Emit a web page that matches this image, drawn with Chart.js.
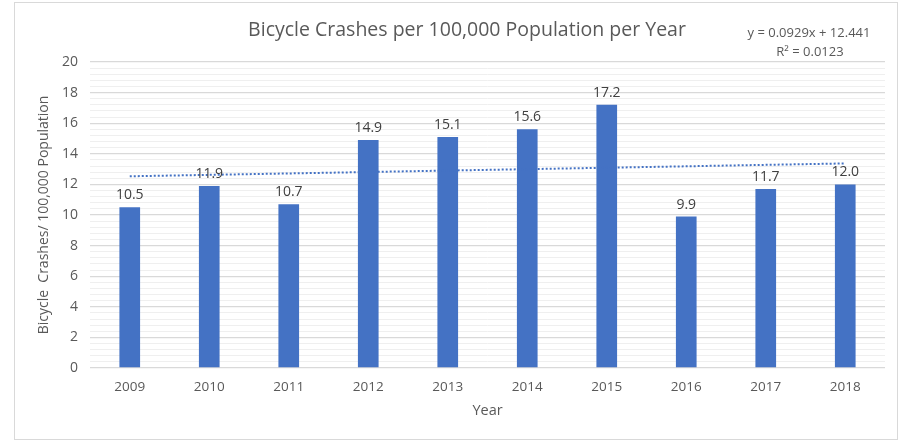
<!DOCTYPE html>
<html>
<head>
<meta charset="utf-8">
<script src="https://cdn.jsdelivr.net/npm/chart.js@4/dist/chart.umd.min.js"></script>
<style>
  html, body { margin: 0; padding: 0; background: #fff; }
  #wrap { width: 902px; height: 444px; position: relative; }
</style>
</head>
<body>
<div id="wrap"><canvas id="grafico" width="902" height="444"></canvas></div>
<script>
// =====================================================
// DATOS
// =====================================================

const years = ["2009", "2010", "2011", "2012", "2013", "2014", "2015", "2016", "2017", "2018"];
const crashRates = [10.5, 11.9, 10.7, 14.9, 15.1, 15.6, 17.2, 9.9, 11.7, 12.0];
// linea de tendencia (extremos)
const trendValues = [12.53, null, null, null, null, null, null, null, null, 13.37];
const yTickLabels = [0, 2, 4, 6, 8, 10, 12, 14, 16, 18, 20];
const yMinorStep = 0.4;

const chartTitle = "Bicycle Crashes per 100,000 Population per Year";
const trendEquation = "y = 0.0929x + 12.441";
const trendR2 = "R² = 0.0123";

const FONT = "'Open Sans', 'Liberation Sans', sans-serif";
const GRIS = "#595959";

// =====================================================
// PLUGIN: marco, titulo, ecuacion, etiquetas de valores
// =====================================================

const extras = {
  id: "extras",
  beforeDraw(chart) {
    const ctx = chart.ctx;
    ctx.save();
    ctx.strokeStyle = "#d9d9d9";
    ctx.lineWidth = 1;
    ctx.strokeRect(14.5, 2.5, 883, 437);
    ctx.restore();
  },
  afterDatasetsDraw(chart) {
    const ctx = chart.ctx;
    ctx.save();

    ctx.fillStyle = GRIS;
    ctx.textAlign = "center";
    ctx.textBaseline = "middle";
    ctx.font = "19.5px " + FONT;
    ctx.fillText(chartTitle, 467, 30);

    ctx.font = "13px " + FONT;
    ctx.fillText(trendEquation, 809, 33);
    ctx.fillText(trendR2, 810, 52);

    // valores sobre las barras
    const meta = chart.getDatasetMeta(0);
    ctx.fillStyle = "#404040";
    ctx.font = "14px " + FONT;
    ctx.textBaseline = "bottom";
    meta.data.forEach((bar, i) => {
      ctx.fillText(crashRates[i].toFixed(1), bar.x, bar.y - 5);
    });

    ctx.restore();
  }
};

// =====================================================
// GRAFICO
// =====================================================

const ctx = document.getElementById("grafico").getContext("2d");

new Chart(ctx, {
  type: "bar",
  data: {
    labels: years,
    datasets: [
      {
        label: "Bicycle Crashes",
        data: crashRates,
        backgroundColor: "#4472C4",
        barPercentage: 0.26,
        categoryPercentage: 1,
        order: 2
      },
      {
        type: "line",
        label: "Linear",
        data: trendValues,
        spanGaps: true,
        borderColor: "#4472C4",
        borderWidth: 2,
        borderDash: [2, 2],
        pointRadius: 0,
        fill: false,
        order: 1
      }
    ]
  },
  options: {
    responsive: false,
    animation: false,
    layout: { padding: { top: 62, left: 0, right: 17, bottom: 0 } },
    plugins: {
      legend: { display: false },
      tooltip: { enabled: false }
    },
    scales: {
      x: {
        grid: { display: false, drawTicks: false },
        border: { display: false },
        ticks: { color: GRIS, font: { family: FONT, size: 13.5 }, padding: 11 },
        title: {
          display: true,
          text: "Year",
          color: GRIS,
          font: { family: FONT, size: 14.5 },
          padding: { top: 0, bottom: 24 }
        },
        afterFit(scale) { scale.height = 76; }
      },
      y: {
        min: 0,
        max: 20,
        afterBuildTicks(scale) {
          const t = [];
          for (let i = 0; i <= 50; i++) t.push({ value: Math.round(i * yMinorStep * 10) / 10 });
          scale.ticks = t;
        },
        grid: {
          drawTicks: false,
          color(c) {
            return yTickLabels.includes(c.tick.value) ? "#d9d9d9" : "#efefef";
          },
          lineWidth(c) {
            return yTickLabels.includes(c.tick.value) ? 1.3 : 1;
          }
        },
        border: { display: false },
        ticks: {
          color: GRIS,
          font: { family: FONT, size: 14 },
          padding: 12,
          autoSkip: false,
          callback(v) {
            return yTickLabels.includes(v) ? v : "";
          }
        },
        title: {
          display: true,
          text: "Bicycle  Crashes/ 100,000 Population",
          color: GRIS,
          font: { family: FONT, size: 14 },
          padding: { top: 36, bottom: 0 }
        },
        afterFit(scale) { scale.width = 90; }
      }
    }
  },
  plugins: [extras]
});
</script>
</body>
</html>
